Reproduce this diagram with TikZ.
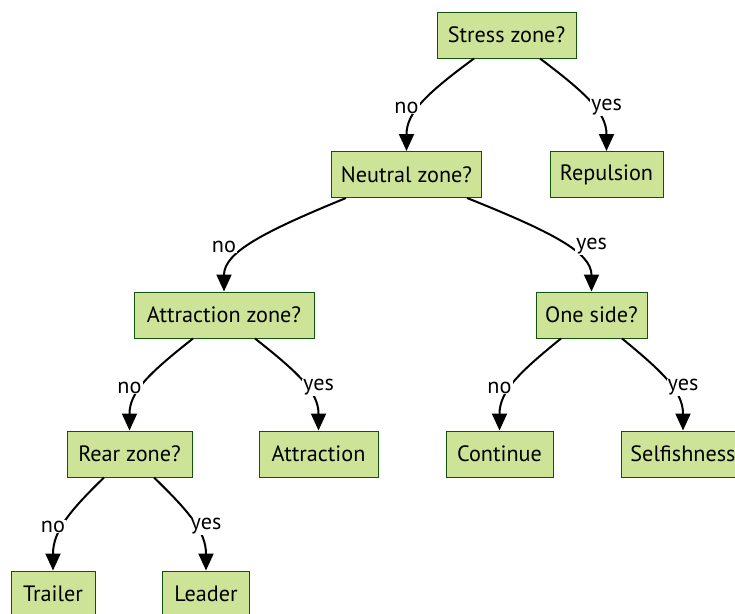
\documentclass[tikz,border=0pt]{standalone}
\usepackage{fontspec}
\setmainfont{PT Sans}
\usetikzlibrary{arrows.meta}
\definecolor{boxfill}{HTML}{CDE498}
\definecolor{boxline}{HTML}{13540C}
\begin{document}
\begin{tikzpicture}[x=1pt,y=-1pt,
  box/.style={draw=boxline, fill=boxfill, line width=1pt, minimum height=46pt,
    inner sep=0pt, font=\fontsize{22.2}{26}\selectfont},
  lbl/.style={fill=white, inner sep=1pt, font=\fontsize{22.2}{26}\selectfont},
  edge/.style={draw=black, line width=2pt, -{Triangle[length=17pt,width=15pt]}}]
\useasboundingbox (0,0) rectangle (735,613);

% decision and outcome boxes
\node[box, minimum width=139pt] (st) at (506.5,35)   {Stress zone?};
\node[box, minimum width=150pt] (ne) at (406.5,174.5) {Neutral zone?};
\node[box, minimum width=113pt] (re) at (606.5,174.5) {Repulsion};
\node[box, minimum width=180pt] (az) at (224,315)    {Attraction zone?};
\node[box, minimum width=111pt] (os) at (591.5,315)  {One side?};
\node[box, minimum width=125pt] (rz) at (129.5,454)  {Rear zone?};
\node[box, minimum width=119pt] (at) at (318.5,454)  {Attraction};
\node[box, minimum width=107pt] (co) at (499.5,454)  {Continue};
\node[box, minimum width=124pt] (se) at (683,454)    {Selfishness};
\node[box, minimum width=84pt]  (tr) at (53,594)     {Trailer};
\node[box, minimum width=87pt]  (le) at (206,594)    {Leader};

% branches
\draw[edge] ([xshift=-32.5pt]st.south) .. controls +(-46,34) and +(0,-39) .. (ne.north);
\draw[edge] ([xshift=33.5pt]st.south)  .. controls +(45,34)  and +(0,-39) .. (re.north);
\draw[edge] ([xshift=-60.5pt]ne.south) .. controls +(-83,34) and +(0,-39) .. (az.north);
\draw[edge] ([xshift=60.5pt]ne.south)  .. controls +(85,34)  and +(0,-39) .. (os.north);
\draw[edge] ([xshift=-31pt]az.south)   .. controls +(-43,34) and +(0,-39) .. (rz.north);
\draw[edge] ([xshift=31pt]az.south)    .. controls +(43,34)  and +(0,-39) .. (at.north);
\draw[edge] ([xshift=-30.5pt]os.south) .. controls +(-42,34) and +(0,-39) .. (co.north);
\draw[edge] ([xshift=30.5pt]os.south)  .. controls +(41.5,34) and +(0,-39) .. (se.north);
\draw[edge] ([xshift=-25.5pt]rz.south) .. controls +(-35,34) and +(0,-39) .. (tr.north);
\draw[edge] ([xshift=24.5pt]rz.south)  .. controls +(35,34)  and +(0,-39) .. (le.north);

% branch labels
\node[lbl] (l1)  at (406.5,107.5) {no};
\node[lbl] (l2)  at (606.5,107.5) {yes};
\node[lbl] (l3)  at (224,246.5)   {no};
\node[lbl] (l4)  at (591.5,246.5) {yes};
\node[lbl] (l5)  at (129.5,387.5) {no};
\node[lbl] (l6)  at (318.5,387.5) {yes};
\node[lbl] (l7)  at (499.5,387.5) {no};
\node[lbl] (l8)  at (683,387.5)   {yes};
\node[lbl] (l9)  at (53,526.5)    {no};
\node[lbl] (l10) at (206,526.5)   {yes};
\end{tikzpicture}
\end{document}
